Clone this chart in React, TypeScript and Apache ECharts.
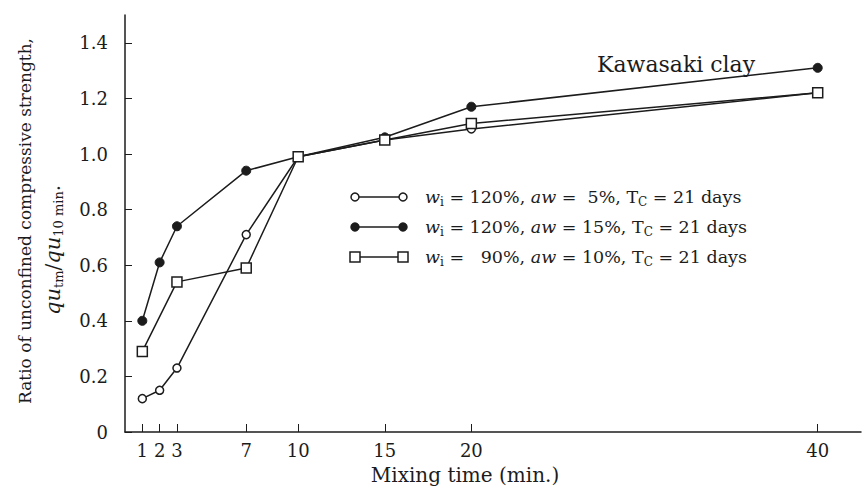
import React, { useEffect, useRef } from "react";
import * as echarts from "echarts";

const mixingTimes = [1, 2, 3, 7, 10, 15, 20, 40];
const squareTimes = [1, 3, 7, 10, 15, 20, 40];
const openCircle5 = [0.12, 0.15, 0.23, 0.71, 0.99, 1.05, 1.09, 1.22];
const filledCircle15 = [0.40, 0.61, 0.74, 0.94, 0.99, 1.06, 1.17, 1.31];
const square10 = [0.29, 0.54, 0.59, 0.99, 1.05, 1.11, 1.22];
const xTickValues = [1, 2, 3, 7, 10, 15, 20, 40];
const yTickValues = [0, 0.2, 0.4, 0.6, 0.8, 1.0, 1.2, 1.4];
const legendTexts = [
  "{it|w}{sub|i} = 120%, {it|aw} =  5%, T{sub|C} = 21 days",
  "{it|w}{sub|i} = 120%, {it|aw} = 15%, T{sub|C} = 21 days",
  "{it|w}{sub|i} =   90%, {it|aw} = 10%, T{sub|C} = 21 days",
];
const annotation = "Kawasaki clay";
const yTitle1 = "Ratio of unconfined compressive strength,";
const yTitle2 = "{it|qu}{sub|tm}{n|/}{it|qu}{sub|10 min}{n|.}";
const xTitle = "Mixing time (min.)";

const FONT = "DejaVu Serif";
const INK = "#1c1c1c";

export default function App() {
  const ref = useRef<HTMLDivElement>(null);
  useEffect(() => {
    if (!ref.current) return;
    const chart = echarts.init(ref.current, null, { renderer: "svg" });
    const pair = (xs: number[], ys: number[]) => xs.map((x, i) => [x, ys[i]]);
    const richBase = {
      it: { fontFamily: FONT, fontSize: 17.5, fontStyle: "italic", fill: INK, lineHeight: 22 },
      sub: { fontFamily: FONT, fontSize: 12, fill: INK, lineHeight: 22, verticalAlign: "bottom", padding: [8, 0, 0, 0] },
    };
    const legendRows = [197, 227, 257];
    const legendMarkers = ["circleOpen", "circleFilled", "square"];
    const legendGraphics: any[] = [];
    legendRows.forEach((y, i) => {
      legendGraphics.push({
        type: "line",
        shape: { x1: 355, y1: y, x2: 403, y2: y },
        style: { stroke: INK, lineWidth: 1.5 },
        z: 10,
      });
      [355, 403].forEach((cx) => {
        if (legendMarkers[i] === "square") {
          legendGraphics.push({
            type: "rect",
            shape: { x: cx - 5, y: y - 5, width: 10, height: 10 },
            style: { fill: "#fff", stroke: INK, lineWidth: 1.5 },
            z: 11,
          });
        } else {
          legendGraphics.push({
            type: "circle",
            shape: { cx, cy: y, r: 4 },
            style: {
              fill: legendMarkers[i] === "circleFilled" ? INK : "#fff",
              stroke: INK,
              lineWidth: 1.5,
            },
            z: 11,
          });
        }
      });
      legendGraphics.push({
        type: "text",
        x: 425,
        y,
        style: {
          text: legendTexts[i],
          fontFamily: FONT,
          fontSize: 17.5,
          fill: INK,
          verticalAlign: "middle",
          align: "left",
          rich: richBase,
        },
        z: 11,
      });
    });

    chart.setOption({
      animation: false,
      backgroundColor: "#fff",
      grid: { left: 125, right: 5, top: 15, bottom: 57 },
      xAxis: {
        type: "value",
        min: 0,
        max: 42.5,
        splitLine: { show: false },
        axisLine: { lineStyle: { color: INK, width: 1.5 } },
        axisTick: {
          inside: true,
          length: 8,
          customValues: xTickValues,
          lineStyle: { color: INK, width: 1 },
        },
        axisLabel: {
          customValues: xTickValues,
          fontFamily: FONT,
          fontSize: 18,
          color: INK,
          margin: 9,
        },
      },
      yAxis: {
        type: "value",
        min: 0,
        max: 1.5,
        splitLine: { show: false },
        axisLine: { show: true, lineStyle: { color: INK, width: 1.5 } },
        axisTick: {
          show: true,
          inside: true,
          length: 7,
          customValues: yTickValues,
          lineStyle: { color: INK, width: 1 },
        },
        axisLabel: {
          customValues: yTickValues,
          fontFamily: FONT,
          fontSize: 18,
          color: INK,
          margin: 17,
          formatter: (v: number) => (v === 0 ? "0" : v.toFixed(1)),
        },
      },
      series: [
        {
          name: "wi = 120%, aw = 5%",
          type: "line",
          data: pair(mixingTimes, openCircle5),
          symbol: "circle",
          symbolSize: 8,
          lineStyle: { color: INK, width: 1.5 },
          itemStyle: { color: "#fff", borderColor: INK, borderWidth: 1.5 },
          z: 3,
        },
        {
          name: "wi = 120%, aw = 15%",
          type: "line",
          data: pair(mixingTimes, filledCircle15),
          symbol: "circle",
          symbolSize: 9,
          lineStyle: { color: INK, width: 1.5 },
          itemStyle: { color: INK, borderColor: INK, borderWidth: 1 },
          z: 4,
        },
        {
          name: "wi = 90%, aw = 10%",
          type: "line",
          data: pair(squareTimes, square10),
          symbol: "rect",
          symbolSize: 10,
          lineStyle: { color: INK, width: 1.5 },
          itemStyle: { color: "#fff", borderColor: INK, borderWidth: 1.5 },
          z: 5,
        },
      ],
      graphic: [
        ...legendGraphics,
        {
          type: "text",
          x: 597,
          y: 64,
          style: {
            text: annotation,
            fontFamily: FONT,
            fontSize: 22,
            fill: INK,
            verticalAlign: "middle",
            align: "left",
          },
        },
        {
          type: "text",
          x: 465,
          y: 475,
          style: {
            text: xTitle,
            fontFamily: FONT,
            fontSize: 20,
            fill: INK,
            verticalAlign: "middle",
            align: "center",
          },
        },
        {
          type: "text",
          x: 25,
          y: 221,
          rotation: Math.PI / 2,
          style: {
            text: yTitle1,
            fontFamily: FONT,
            fontSize: 17,
            fill: INK,
            verticalAlign: "middle",
            align: "center",
          },
        },
        {
          type: "text",
          x: 53,
          y: 315,
          rotation: Math.PI / 2,
          style: {
            text: yTitle2,
            fontFamily: FONT,
            fontSize: 20,
            fill: INK,
            verticalAlign: "middle",
            align: "left",
            rich: {
              n: { fontFamily: FONT, fontSize: 20, fill: INK, lineHeight: 24 },
              it: { fontFamily: FONT, fontSize: 21, fontStyle: "italic", fill: INK, lineHeight: 24 },
              sub: { fontFamily: FONT, fontSize: 13, fill: INK, lineHeight: 24, verticalAlign: "bottom", padding: [10, 0, 0, 0] },
            },
          },
        },
      ],
    });
    return () => chart.dispose();
  }, []);
  return <div ref={ref} style={{ width: 866, height: 489, position: "absolute", left: 0, top: 0 }} />;
}
